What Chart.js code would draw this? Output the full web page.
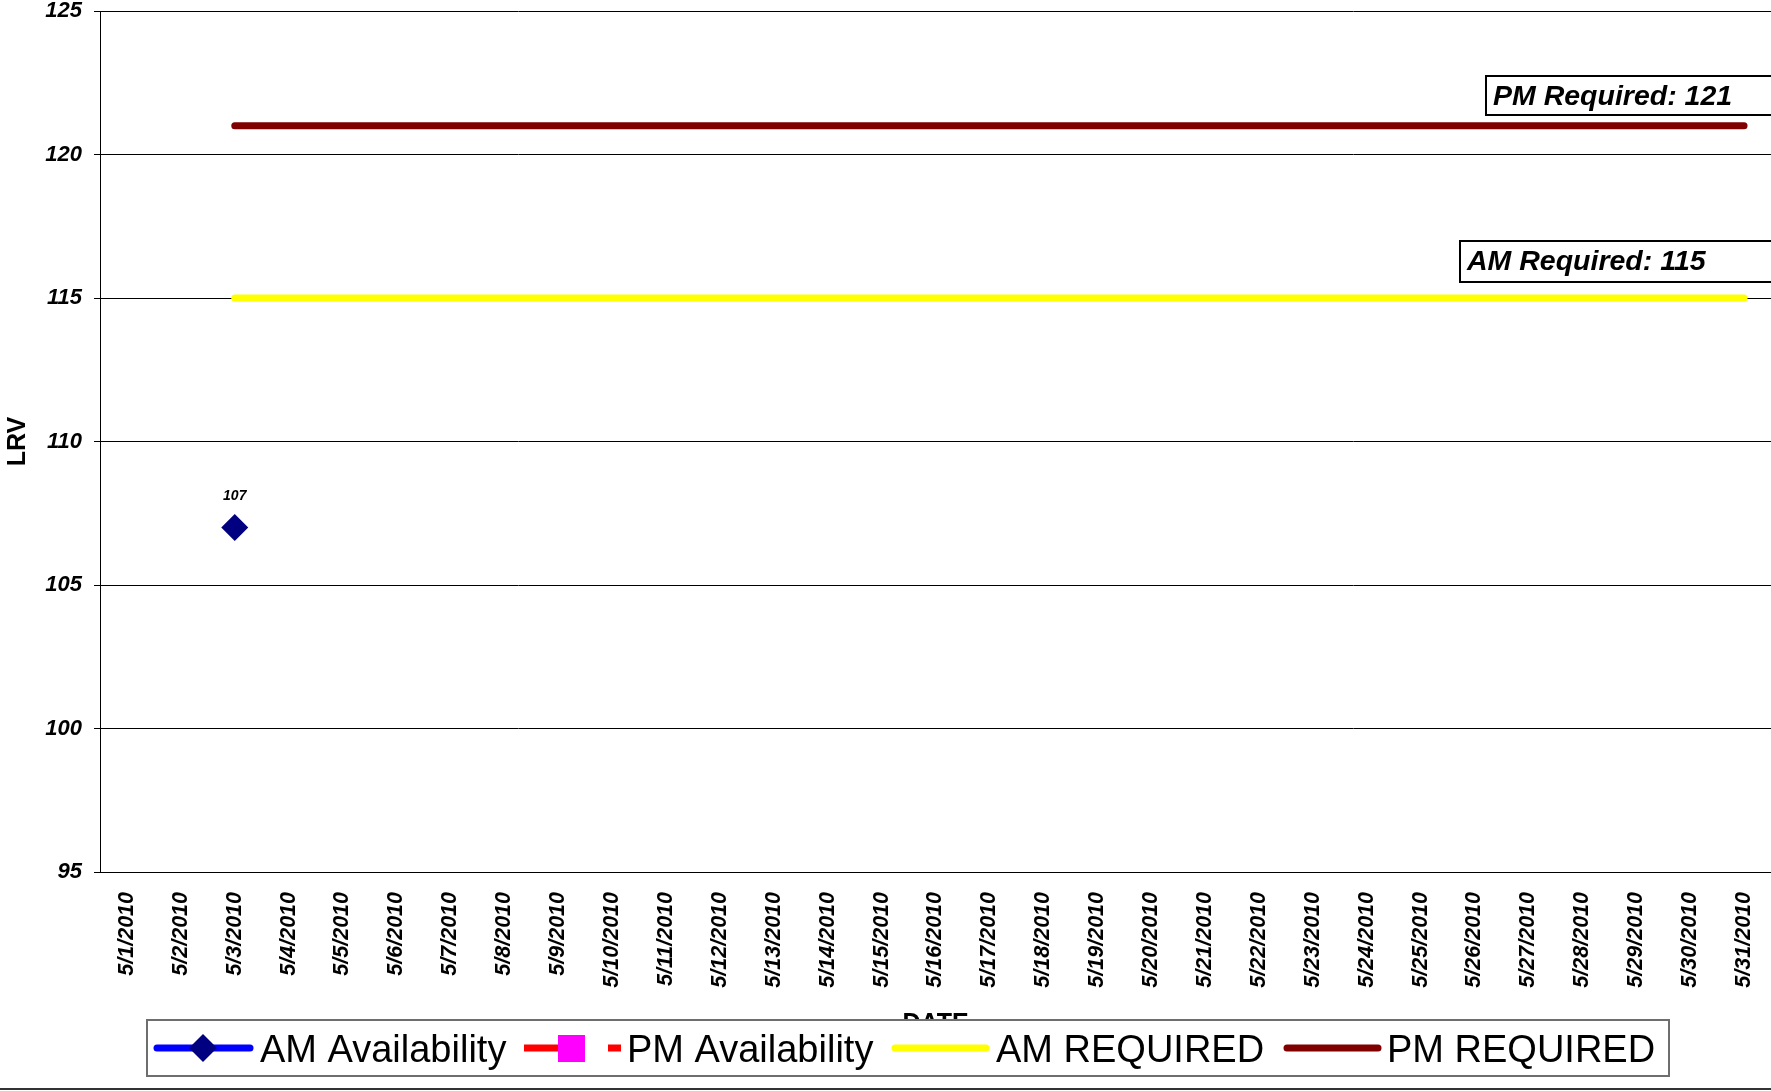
<!DOCTYPE html>
<html>
<head>
<meta charset="utf-8">
<script src="https://cdn.jsdelivr.net/npm/chart.js@4/dist/chart.umd.min.js"></script>
<style>
  html, body { margin: 0; padding: 0; background: #fff; }
  canvas { display: block; }
</style>
</head>
<body>
<canvas id="lrv" width="1771" height="1091"></canvas>
<script>
(function () {
  'use strict';

  var dates = [
    '5/1/2010', '5/2/2010', '5/3/2010', '5/4/2010', '5/5/2010', '5/6/2010', '5/7/2010', '5/8/2010',
    '5/9/2010', '5/10/2010', '5/11/2010', '5/12/2010', '5/13/2010', '5/14/2010', '5/15/2010', '5/16/2010',
    '5/17/2010', '5/18/2010', '5/19/2010', '5/20/2010', '5/21/2010', '5/22/2010', '5/23/2010', '5/24/2010',
    '5/25/2010', '5/26/2010', '5/27/2010', '5/28/2010', '5/29/2010', '5/30/2010', '5/31/2010'
  ];

  var amAvailability = [
    null, null, 107, null, null, null, null, null, null, null, null, null, null, null, null, null,
    null, null, null, null, null, null, null, null, null, null, null, null, null, null, null
  ];

  var pmAvailability = [
    null, null, null, null, null, null, null, null, null, null, null, null, null, null, null, null,
    null, null, null, null, null, null, null, null, null, null, null, null, null, null, null
  ];

  var amRequired = [
    null, null, 115, 115, 115, 115, 115, 115, 115, 115, 115, 115, 115, 115, 115, 115,
    115, 115, 115, 115, 115, 115, 115, 115, 115, 115, 115, 115, 115, 115, 115
  ];

  var pmRequired = [
    null, null, 121, 121, 121, 121, 121, 121, 121, 121, 121, 121, 121, 121, 121, 121,
    121, 121, 121, 121, 121, 121, 121, 121, 121, 121, 121, 121, 121, 121, 121
  ];

  var yTicks = [95, 100, 105, 110, 115, 120, 125];

  var fontFamily = '"Liberation Sans", Arial, sans-serif';

  var colors = {
    amLine: '#0000ff',
    amPoint: '#000080',
    pmLine: '#ff0000',
    pmPoint: '#ff00ff',
    amReq: '#ffff00',
    pmReq: '#800000'
  };

  function boxLabel(ctx, text, left, top, bottom, baseline, textX) {
    ctx.save();
    ctx.fillStyle = '#fff';
    ctx.fillRect(left, top, 1800 - left, bottom - top);
    ctx.strokeStyle = '#000';
    ctx.lineWidth = 2;
    ctx.strokeRect(left, top, 1800 - left, bottom - top);
    ctx.fillStyle = '#000';
    ctx.font = 'italic bold 28.5px ' + fontFamily;
    ctx.textBaseline = 'alphabetic';
    ctx.textAlign = 'left';
    ctx.fillText(text, textX, baseline);
    ctx.restore();
  }

  function seg(ctx, x1, x2, y, color, width) {
    ctx.beginPath();
    ctx.moveTo(x1, y);
    ctx.lineTo(x2, y);
    ctx.strokeStyle = color;
    ctx.lineWidth = width;
    ctx.lineCap = 'round';
    ctx.stroke();
  }

  var extras = {
    id: 'extras',
    afterDraw: function (chart) {
      var ctx = chart.ctx;
      var x = chart.scales.x;
      var y = chart.scales.y;

      // value label above the single AM point
      ctx.save();
      ctx.fillStyle = '#000';
      ctx.font = 'italic bold 14px ' + fontFamily;
      ctx.textAlign = 'center';
      ctx.textBaseline = 'alphabetic';
      amAvailability.forEach(function (v, i) {
        if (v === null) return;
        ctx.fillText(String(v), x.getPixelForValue(i), y.getPixelForValue(v) - 28);
      });

      // axis titles
      ctx.font = 'bold 25px ' + fontFamily;
      ctx.save();
      ctx.translate(18, (chart.chartArea.top + chart.chartArea.bottom) / 2);
      ctx.rotate(-Math.PI / 2);
      ctx.textAlign = 'center';
      ctx.textBaseline = 'middle';
      ctx.fillText('LRV', 0, 0);
      ctx.restore();
      ctx.textAlign = 'center';
      ctx.textBaseline = 'top';
      ctx.fillText('DATE', (chart.chartArea.left + chart.chartArea.right) / 2, 1012);
      ctx.restore();

      boxLabel(ctx, 'PM Required: ' + pmRequired[pmRequired.length - 1], 1486, 76, 115, 105, 1493);
      boxLabel(ctx, 'AM Required: ' + amRequired[amRequired.length - 1], 1460, 241, 282, 270, 1467);

      // legend
      ctx.save();
      ctx.fillStyle = '#fff';
      ctx.fillRect(147, 1020, 1522, 56);
      ctx.strokeStyle = '#6e6e6e';
      ctx.lineWidth = 2;
      ctx.strokeRect(147, 1020, 1522, 56);

      var ly = 1048;
      seg(ctx, 157, 250, ly, colors.amLine, 7);
      ctx.beginPath();
      ctx.moveTo(203, ly - 14);
      ctx.lineTo(217, ly);
      ctx.lineTo(203, ly + 14);
      ctx.lineTo(189, ly);
      ctx.closePath();
      ctx.fillStyle = colors.amPoint;
      ctx.fill();

      ctx.lineCap = 'butt';
      ctx.beginPath();
      ctx.moveTo(524, ly); ctx.lineTo(558, ly);
      ctx.moveTo(608, ly); ctx.lineTo(621, ly);
      ctx.strokeStyle = colors.pmLine;
      ctx.lineWidth = 7;
      ctx.stroke();
      ctx.fillStyle = colors.pmPoint;
      ctx.fillRect(558, 1035, 27, 27);

      seg(ctx, 895, 986, ly, colors.amReq, 7);
      seg(ctx, 1287, 1378, ly, colors.pmReq, 7);

      ctx.fillStyle = '#000';
      ctx.font = '38px ' + fontFamily;
      ctx.textAlign = 'left';
      ctx.textBaseline = 'alphabetic';
      ctx.fillText('AM Availability', 260, 1062);
      ctx.fillText('PM Availability', 627, 1062);
      ctx.fillText('AM REQUIRED', 996, 1062);
      ctx.fillText('PM REQUIRED', 1387, 1062);

      // outer frame bottom edge
      ctx.beginPath();
      ctx.moveTo(0, 1089);
      ctx.lineTo(1771, 1089);
      ctx.strokeStyle = '#333';
      ctx.lineWidth = 2;
      ctx.stroke();
      ctx.restore();
    }
  };

  new Chart(document.getElementById('lrv'), {
    type: 'line',
    data: {
      labels: dates,
      datasets: [
        {
          label: 'AM Availability',
          data: amAvailability,
          borderColor: colors.amLine,
          backgroundColor: colors.amPoint,
          borderWidth: 4,
          pointStyle: 'rectRot',
          pointRadius: 13.5,
          pointBackgroundColor: colors.amPoint,
          pointBorderColor: colors.amPoint,
          pointBorderWidth: 0,
          order: 0
        },
        {
          label: 'PM Availability',
          data: pmAvailability,
          borderColor: colors.pmLine,
          borderDash: [8, 8],
          borderWidth: 4,
          pointStyle: 'rect',
          pointRadius: 10,
          pointBackgroundColor: colors.pmPoint,
          pointBorderColor: colors.pmPoint,
          order: 1
        },
        {
          label: 'AM REQUIRED',
          data: amRequired,
          borderColor: colors.amReq,
          borderWidth: 7,
          borderCapStyle: 'round',
          pointRadius: 0,
          order: 2
        },
        {
          label: 'PM REQUIRED',
          data: pmRequired,
          borderColor: colors.pmReq,
          borderWidth: 7,
          borderCapStyle: 'round',
          pointRadius: 0,
          order: 3
        }
      ]
    },
    options: {
      responsive: false,
      animation: false,
      devicePixelRatio: 1,
      layout: { autoPadding: false, padding: { top: 11, right: 0, bottom: 0, left: 0 } },
      plugins: {
        legend: { display: false },
        tooltip: { enabled: false }
      },
      scales: {
        x: {
          type: 'category',
          offset: true,
          grid: { display: false },
          border: { display: true, color: '#000', width: 1 },
          ticks: {
            autoSkip: false,
            minRotation: 90,
            maxRotation: 90,
            padding: 12,
            color: '#000',
            font: { family: fontFamily, size: 21.5, style: 'italic', weight: 'bold' }
          },
          afterFit: function (scale) {
            scale.height = 219;
            scale.paddingLeft = 0;
            scale.paddingRight = 0;
          }
        },
        y: {
          min: 95,
          max: 125,
          afterBuildTicks: function (scale) {
            scale.ticks = yTicks.map(function (v) { return { value: v }; });
          },
          grid: { color: '#000', lineWidth: 1, drawTicks: true, tickLength: 6, tickColor: '#000' },
          border: { display: true, color: '#000', width: 1 },
          ticks: {
            padding: 12,
            color: '#000',
            font: { family: fontFamily, size: 22, style: 'italic', weight: 'bold' }
          },
          afterFit: function (scale) {
            scale.width = 100;
            scale.paddingTop = 0;
            scale.paddingBottom = 0;
          }
        }
      }
    },
    plugins: [extras]
  });
})();
</script>
</body>
</html>
